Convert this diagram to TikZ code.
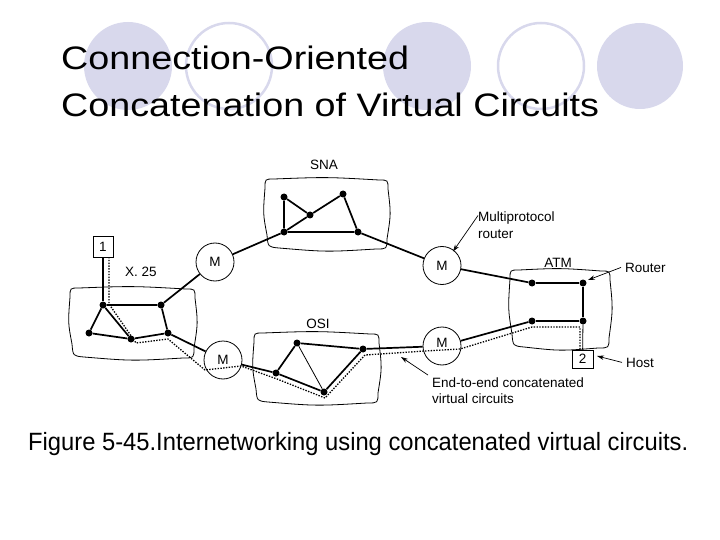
\documentclass[tikz,border=0pt]{standalone}
\usepackage{fontspec}
\setmainfont{Liberation Sans}
\usetikzlibrary{arrows.meta}
\definecolor{deco}{RGB}{216,216,236}
\newcommand{\lbl}{\fontsize{13.5}{16}\selectfont}
\newcommand{\titlef}{\fontsize{32.5}{38}\selectfont}
\newcommand{\capf}{\fontsize{25}{30}\selectfont}
\tikzset{
  net/.style={line width=1.7pt},
  thinnet/.style={line width=0.8pt},
  vc/.style={line width=1.3pt, dash pattern=on 1.4pt off 1.4pt},
  blobline/.style={line width=0.8pt},
  dot/.style={circle, fill=black, inner sep=0pt, minimum size=7pt},
  mnode/.style={circle, draw, line width=0.8pt, minimum size=38pt, inner sep=0pt},
  hostbox/.style={draw, line width=0.8pt, inner sep=0pt, font=\lbl},
  lab/.style={font=\lbl, inner sep=0pt},
  ptr/.style={line width=0.7pt, -{Stealth[length=7pt,width=4.5pt]}},
  decofill/.style={fill=deco, draw=none},
  decoring/.style={draw=deco, line width=2.5pt},
}
\newcommand{\pillow}[4]{%
  \draw[blobline] ({#1+9},{#2}) .. controls ({(#1+#3)/2},{#2-2}) .. ({#3-9},{#2+1})
    .. controls ({#3},{#2+1}) .. ({#3},{#2+10})
    .. controls ({#3+3},{(#2+#4)/2}) .. ({#3-1},{#4-10})
    .. controls ({#3-1},{#4}) .. ({#3-12},{#4})
    .. controls ({(#1+#3)/2},{#4+3}) .. ({#1+14},{#4-1})
    .. controls ({#1+3},{#4-2}) .. ({#1+2},{#4-14})
    .. controls ({#1-2},{(#2+#4)/2}) .. ({#1},{#2+9})
    .. controls ({#1},{#2}) .. ({#1+9},{#2}) -- cycle;}
\begin{document}
\begin{tikzpicture}[x=1pt,y=-1pt]
\useasboundingbox (0,0) rectangle (720,540);

% decorative circles
\fill[decofill] (128,66) circle (44);
\draw[decoring] (229,66) circle (43);
\fill[decofill] (427,66) circle (44);
\draw[decoring] (541,66) circle (43);
\fill[decofill] (640,66) circle (43);

% title
\node[anchor=base west, inner sep=0pt, font=\titlef] (t1) at (61,70) {\scalebox{1.16}[1]{Connection-Oriented}};
\node[anchor=base west, inner sep=0pt, font=\titlef] (t2) at (61,117) {\scalebox{1.16}[1]{Concatenation of Virtual Circuits}};

% network clouds
\pillow{70}{288}{195}{358}
\pillow{265}{179}{388}{249}
\pillow{254}{333}{379}{403}
\pillow{510}{270}{610}{348}

% labels
\node[lab, anchor=base] (lsna) at (324,170) {SNA};
\node[lab, anchor=base] (losi) at (318,328) {OSI};
\node[lab, anchor=base] (latm) at (558,267) {ATM};
\node[lab, anchor=base west] (lx25) at (125,276) {X. 25};
\node[lab, anchor=base west] (lmp1) at (478,222) {Multiprotocol};
\node[lab, anchor=base west] (lmp2) at (478,238) {router};
\node[lab, anchor=base west] (lrouter) at (625,272) {Router};
\node[lab, anchor=base west] (lhost) at (626,367) {Host};
\node[lab, anchor=base west] (lete1) at (432,387) {End-to-end concatenated};
\node[lab, anchor=base west] (lete2) at (432,403) {virtual circuits};

% hosts
\node[hostbox, minimum width=20pt, minimum height=21pt] (h1) at (103,246.5) {1};
\node[hostbox, minimum width=21pt, minimum height=18pt] (h2) at (582.5,359) {2};

% multiprotocol routers
\node[mnode] (m1) at (215,262) {};
\node[lab] (m1t) at (215,262) {M};
\node[mnode] (m2) at (442,265.5) {};
\node[lab] (m2t) at (442,265.5) {M};
\node[mnode] (m3) at (442,346) {};
\node[lab] (m3t) at (442,343) {M};
\node[mnode] (m4) at (223,360) {};
\node[lab] (m4t) at (223,360) {M};

% routers (dots)
\node[dot] (xa) at (103,305) {};
\node[dot] (xb) at (161,305) {};
\node[dot] (xc) at (168,333) {};
\node[dot] (xd) at (131,339) {};
\node[dot] (xe) at (89,333) {};
\node[dot] (sf) at (284,197) {};
\node[dot] (sg) at (310,215) {};
\node[dot] (sh) at (343,194) {};
\node[dot] (si) at (284,232) {};
\node[dot] (sj) at (358,232) {};
\node[dot] (ak) at (532,283) {};
\node[dot] (al) at (583,283) {};
\node[dot] (an) at (532,321) {};
\node[dot] (ap) at (583,321) {};
\node[dot] (oq) at (297,343) {};
\node[dot] (or) at (363,349) {};
\node[dot] (os) at (276,373) {};
\node[dot] (ot) at (324,392) {};

% X.25 lines
\draw[net] (h1) -- (xa);
\draw[net] (xa) -- (xb) -- (xc) -- (xd) -- (xe) -- (xa) -- (xd);
\draw[net] (xb) -- (m1);
\draw[net] (xc) -- (m4);
% SNA lines
\draw[net] (m1) -- (si) -- (sg) -- (sh) -- (sj) -- (si) -- (sf) -- (sg);
\draw[net] (sj) -- (m2);
% ATM lines
\draw[net] (m2) -- (ak);
\draw[net] (ak) -- (al) -- (ap) -- (an) -- cycle;
\draw[net] (an) -- (m3);
\draw[thinnet] (ap) -- (h2);
% OSI lines
\draw[net] (m3) -- (or);
\draw[net] (or) -- (oq) -- (os) -- (ot) -- (or);
\draw[thinnet] (oq) -- (ot);
\draw[net] (m4) -- (os);

% concatenated virtual circuit
\draw[vc] (109,257) -- (109,304) -- (136,343) -- (168,339) -- (205,370) -- (241,366)
  -- (277,379) -- (325,398) -- (365,355) -- (425,351) -- (460,349) -- (532,327)
  -- (580,327) -- (580,350);

% pointers
\coordinate (pm2) at (453,251.5);
\coordinate (prt) at (588,280);
\coordinate (phost) at (597,356);
\coordinate (pvc) at (401,357);
\draw[ptr] (lmp1.west) ++(0,-3) -- (pm2);
\draw[ptr] (lrouter.west) ++(-4,0) -- (prt);
\draw[ptr] (lhost.west) ++(-4,0) -- (phost);
\draw[ptr] (lete1.north west) ++(-4,-2) -- (pvc);

% caption
\node[anchor=base west, inner sep=0pt, font=\capf] (cap) at (28,450) {\scalebox{0.95}[1]{Figure 5-45.Internetworking using concatenated virtual circuits.}};
\end{tikzpicture}
\end{document}
